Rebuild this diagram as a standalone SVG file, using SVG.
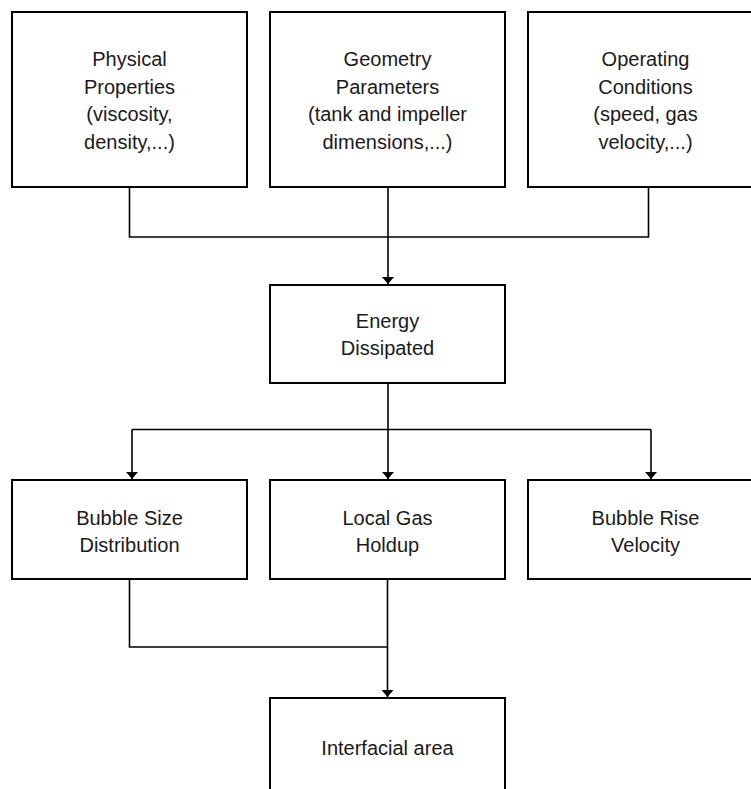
<svg xmlns="http://www.w3.org/2000/svg" width="751" height="789" viewBox="0 0 751 789">
<style>
.box{fill:#fff;stroke:#000;stroke-width:2}
.c{fill:none;stroke:#000;stroke-width:1.6}
text{font-family:"Liberation Sans",Arial,sans-serif;font-size:20px;fill:#1a1a1a;text-anchor:middle}
</style>
<defs>
<marker id="ah" markerUnits="userSpaceOnUse" markerWidth="8" markerHeight="12" viewBox="0 0 8 12" refX="7" refY="6" orient="auto">
<path d="M0,0 L7,6 L0,12 Z" fill="#000"/>
</marker>
</defs>
<rect x="0" y="0" width="751" height="789" fill="#fff"/>
<g id="connectors">
<path class="c" d="M129.5,187 V237 H648.5 V187"/>
<path class="c" d="M388,187 V284" marker-end="url(#ah)"/>
<path class="c" d="M388,383 V479" marker-end="url(#ah)"/>
<path class="c" d="M132,429.5 H651"/>
<path class="c" d="M132,429.5 V479" marker-end="url(#ah)"/>
<path class="c" d="M651,429.5 V479" marker-end="url(#ah)"/>
<path class="c" d="M129.5,579 V647 H387.5"/>
<path class="c" d="M387.5,579 V697" marker-end="url(#ah)"/>
</g>
<g id="physical">
<rect class="box" x="12" y="12" width="235" height="175"/>
<text x="129.5" y="66">Physical</text>
<text x="129.5" y="93.5">Properties</text>
<text x="129.5" y="121">(viscosity,</text>
<text x="129.5" y="148.5">density,...)</text>
</g>
<g id="geometry">
<rect class="box" x="270" y="12" width="235" height="175"/>
<text x="387.5" y="66">Geometry</text>
<text x="387.5" y="93.5">Parameters</text>
<text x="387.5" y="121">(tank and impeller</text>
<text x="387.5" y="148.5">dimensions,...)</text>
</g>
<g id="operating">
<rect class="box" x="528" y="12" width="235" height="175"/>
<text x="645.5" y="66">Operating</text>
<text x="645.5" y="93.5">Conditions</text>
<text x="645.5" y="121">(speed, gas</text>
<text x="645.5" y="148.5">velocity,...)</text>
</g>
<g id="energy">
<rect class="box" x="270" y="285" width="235" height="98"/>
<text x="387.5" y="328">Energy</text>
<text x="387.5" y="355">Dissipated</text>
</g>
<g id="bubblesize">
<rect class="box" x="12" y="480" width="235" height="99"/>
<text x="129.5" y="525">Bubble Size</text>
<text x="129.5" y="552">Distribution</text>
</g>
<g id="holdup">
<rect class="box" x="270" y="480" width="235" height="99"/>
<text x="387.5" y="525">Local Gas</text>
<text x="387.5" y="552">Holdup</text>
</g>
<g id="rise">
<rect class="box" x="528" y="480" width="235" height="99"/>
<text x="645.5" y="525">Bubble Rise</text>
<text x="645.5" y="552">Velocity</text>
</g>
<g id="interfacial">
<rect class="box" x="270" y="698" width="235" height="120"/>
<text x="387.5" y="755">Interfacial area</text>
</g>
</svg>
